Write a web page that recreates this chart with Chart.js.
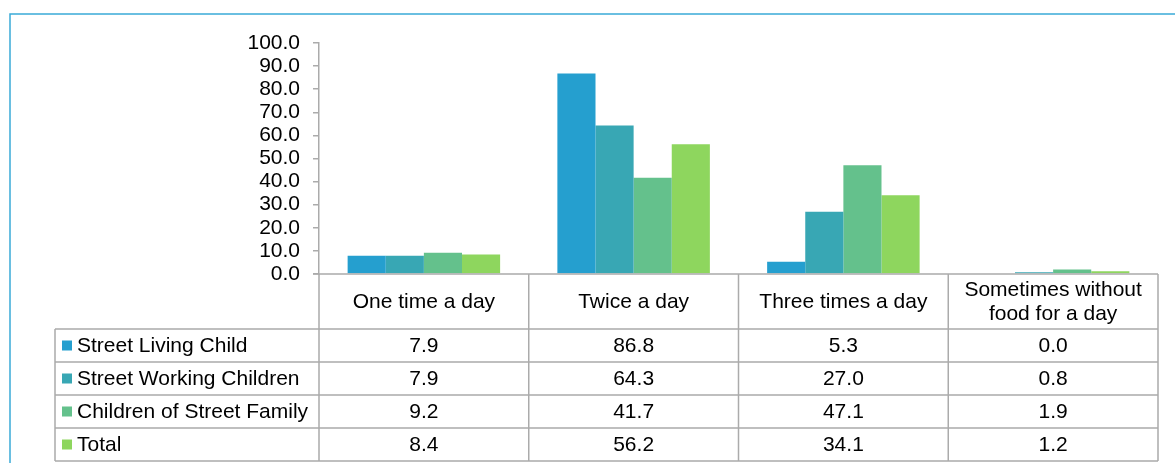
<!DOCTYPE html>
<html>
<head>
<meta charset="utf-8">
<script src="https://cdn.jsdelivr.net/npm/chart.js@4/dist/chart.umd.min.js"></script>
<style>
  body { margin: 0; background: #fff; }
  canvas { display: block; }
</style>
</head>
<body>
<canvas id="myChart" width="1175" height="463"></canvas>
<script>
const canvas = document.getElementById('myChart');

// podaci
const kategorije = ['One time a day', 'Twice a day', 'Three times a day', ['Sometimes without', 'food for a day']];
const serije = ['Street Living Child', 'Street Working Children', 'Children of Street Family', 'Total'];
const streetLiving = [7.9, 86.8, 5.3, 0.0];
const streetWorking = [7.9, 64.3, 27.0, 0.8];
const streetFamily = [9.2, 41.7, 47.1, 1.9];
const total = [8.4, 56.2, 34.1, 1.2];
const boje = ['#259FCF', '#38A7B4', '#64C18C', '#8ED65E'];

const font = '"Liberation Sans", Arial, sans-serif';
const fontSize = 21;
const lineColor = '#ABABAB';

// tabela ispod grafikona + okvir
const tablePlugin = {
    id: 'tablePlugin',
    beforeDraw(chart) {
        const ctx = chart.ctx;
        ctx.save();
        ctx.strokeStyle = '#3AAAD8';
        ctx.lineWidth = 1.5;
        ctx.strokeRect(10, 14, 1300, 600);
        ctx.restore();
    },
    afterDraw(chart) {
        const ctx = chart.ctx;
        const x = chart.scales.x;
        const area = chart.chartArea;
        const step = x.getPixelForValue(1) - x.getPixelForValue(0);
        const top = area.bottom;
        const headerH = 55;
        const rowH = 33;
        const tableLeft = 55;
        const rowsTop = top + headerH;
        const bottom = rowsTop + rowH * serije.length;
        const datasets = chart.data.datasets;

        ctx.save();
        ctx.strokeStyle = lineColor;
        ctx.lineWidth = 1.5;
        ctx.beginPath();
        // horizontalne linije
        ctx.moveTo(area.left - 6, top);
        ctx.lineTo(area.right, top);
        for (let r = 0; r <= serije.length; r++) {
            ctx.moveTo(tableLeft, rowsTop + r * rowH);
            ctx.lineTo(area.right, rowsTop + r * rowH);
        }
        // vertikalne linije
        for (let i = 0; i <= kategorije.length; i++) {
            const px = x.getPixelForValue(0) - step / 2 + i * step;
            ctx.moveTo(px, top);
            ctx.lineTo(px, bottom);
        }
        ctx.moveTo(tableLeft, rowsTop);
        ctx.lineTo(tableLeft, bottom);
        ctx.stroke();

        ctx.fillStyle = '#000';
        ctx.font = fontSize + 'px ' + font;
        ctx.textBaseline = 'middle';
        ctx.textAlign = 'center';
        kategorije.forEach((kat, i) => {
            const cx = x.getPixelForValue(i);
            const lines = Array.isArray(kat) ? kat : [kat];
            const lh = 24;
            const startY = top + headerH / 2 - (lines.length - 1) * lh / 2 + 1;
            lines.forEach((l, j) => ctx.fillText(l, cx, startY + j * lh));
        });

        datasets.forEach((ds, r) => {
            const cy = rowsTop + r * rowH + rowH / 2;
            ctx.fillStyle = ds.backgroundColor;
            ctx.fillRect(62, cy - 5, 10, 10);
            ctx.fillStyle = '#000';
            ctx.textAlign = 'left';
            ctx.fillText(ds.label, 77, cy + 1);
            ctx.textAlign = 'center';
            ds.data.forEach((v, i) => {
                ctx.fillText(v.toFixed(1), x.getPixelForValue(i), cy + 1);
            });
        });
        ctx.restore();
    }
};

const myChart = new Chart(canvas, {
    type: 'bar',
    data: {
        labels: kategorije,
        datasets: [
            { label: serije[0], data: streetLiving, backgroundColor: boje[0] },
            { label: serije[1], data: streetWorking, backgroundColor: boje[1] },
            { label: serije[2], data: streetFamily, backgroundColor: boje[2] },
            { label: serije[3], data: total, backgroundColor: boje[3] }
        ]
    },
    options: {
        responsive: false,
        animation: false,
        categoryPercentage: 0.727,
        barPercentage: 1,
        layout: {
            padding: { left: 0, right: 17, top: 43, bottom: 189 }
        },
        plugins: {
            legend: { display: false },
            tooltip: { enabled: false }
        },
        scales: {
            x: {
                display: false
            },
            y: {
                min: 0,
                max: 100,
                afterFit: function (scale) {
                    scale.width = 319;
                },
                ticks: {
                    stepSize: 10,
                    autoSkip: false,
                    padding: 13,
                    color: '#000',
                    font: { family: font, size: fontSize },
                    callback: function (value) {
                        return value.toFixed(1);
                    }
                },
                grid: {
                    drawOnChartArea: false,
                    drawTicks: true,
                    tickLength: 6,
                    color: lineColor,
                    lineWidth: 1.5
                },
                border: { display: true, color: lineColor, width: 1.5 }
            }
        }
    },
    plugins: [tablePlugin]
});
</script>
</body>
</html>
